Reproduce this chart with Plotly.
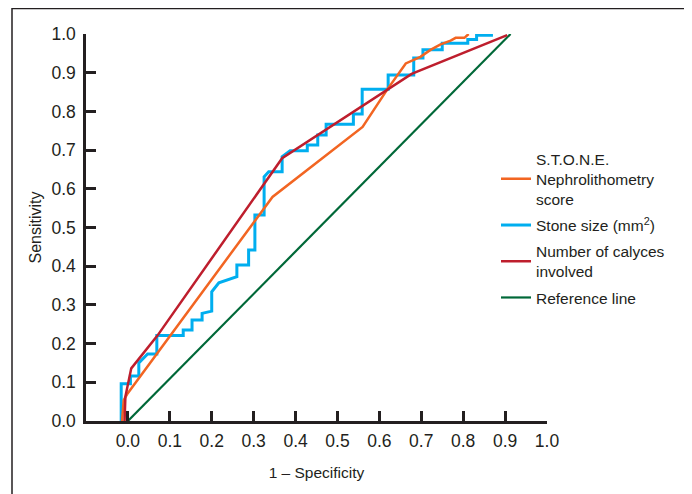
import plotly.graph_objects as go

# ---- data ----
stone_x = [-0.014, -0.010, -0.002, 0.345, 0.560, 0.619, 0.663, 0.698, 0.722, 0.746, 0.770, 0.782, 0.803, 0.813]
stone_y = [0.000, 0.054, 0.069, 0.579, 0.760, 0.857, 0.924, 0.941, 0.959, 0.973, 0.983, 0.990, 0.990, 1.000]

size_x = [-0.016, -0.016, 0.006, 0.006, 0.026, 0.026, 0.047, 0.069, 0.069, 0.132, 0.132, 0.153, 0.153,
          0.177, 0.177, 0.200, 0.200, 0.217, 0.260, 0.260, 0.288, 0.288, 0.303, 0.303, 0.325, 0.325,
          0.336, 0.368, 0.368, 0.387, 0.428, 0.428, 0.453, 0.453, 0.473, 0.473, 0.538, 0.538, 0.559,
          0.559, 0.621, 0.621, 0.682, 0.682, 0.704, 0.704, 0.750, 0.750, 0.811, 0.811, 0.832, 0.832, 0.871]
size_y = [0.000, 0.096, 0.096, 0.116, 0.116, 0.150, 0.173, 0.173, 0.221, 0.221, 0.235, 0.235, 0.261,
          0.261, 0.278, 0.284, 0.334, 0.357, 0.373, 0.403, 0.403, 0.442, 0.442, 0.532, 0.532, 0.631,
          0.644, 0.644, 0.683, 0.698, 0.698, 0.713, 0.713, 0.739, 0.739, 0.767, 0.767, 0.793, 0.793,
          0.857, 0.857, 0.894, 0.894, 0.938, 0.938, 0.959, 0.959, 0.976, 0.976, 0.986, 0.986, 0.997, 0.997]

calyces_x = [-0.008, -0.006, 0.008, 0.070, 0.368, 0.677, 0.905]
calyces_y = [0.000, 0.063, 0.136, 0.220, 0.679, 0.897, 0.997]

ref_x = [0.0, 0.913]
ref_y = [0.0, 1.0]

x_ticks = [0.0, 0.1, 0.2, 0.3, 0.4, 0.5, 0.6, 0.7, 0.8, 0.9, 1.0]
y_ticks = [0.0, 0.1, 0.2, 0.3, 0.4, 0.5, 0.6, 0.7, 0.8, 0.9, 1.0]
tick_text = ["0.0", "0.1", "0.2", "0.3", "0.4", "0.5", "0.6", "0.7", "0.8", "0.9", "1.0"]

names = ["S.T.O.N.E.<br>Nephrolithometry<br>score", "Stone size (mm<sup>2</sup>)",
         "Number of calyces<br>involved", "Reference line"]
colors = ["#F26522", "#00AEEF", "#BE1E2D", "#006838"]

FONT = "Arial, Liberation Sans, Helvetica, sans-serif"

fig = go.Figure()
fig.add_trace(go.Scatter(x=ref_x, y=ref_y, mode="lines", name=names[3], legendrank=4,
                         legendgroup="g4", line=dict(color=colors[3], width=2.2)))
fig.add_trace(go.Scatter(x=size_x, y=size_y, mode="lines", name=names[1], legendrank=2,
                         legendgroup="g2", line=dict(color=colors[1], width=3)))
fig.add_trace(go.Scatter(x=stone_x, y=stone_y, mode="lines", name=names[0], legendrank=1,
                         legendgroup="g1", line=dict(color=colors[0], width=2.5)))
fig.add_trace(go.Scatter(x=calyces_x, y=calyces_y, mode="lines", name=names[2], legendrank=3,
                         legendgroup="g3", line=dict(color=colors[2], width=2.5)))

# the page body has an 8px margin, so figure coords = screen coords - 8
OFF = 8
W, H = 692, 494
L, T = 86 - OFF, 34 - OFF
R = W - (547 - OFF)
B = H - (421 - OFF)
pw, ph = W - L - R, H - T - B

def px_x(p):
    return (p - OFF - L) / pw

def px_y(p):
    return (H - B - (p - OFF)) / ph

fig.add_shape(type="rect", xref="paper", yref="paper",
              x0=px_x(12), x1=px_x(685), y0=px_y(560), y1=px_y(8.5),
              line=dict(color="#231F20", width=1.5), fillcolor="rgba(0,0,0,0)", layer="below")

fig.update_layout(
    width=W, height=H,
    margin=dict(l=L, r=R, t=T, b=B, autoexpand=False),
    paper_bgcolor="white", plot_bgcolor="white",
    font=dict(family=FONT, color="#231F20"),
    showlegend=True,
    legend=dict(x=px_x(496), xanchor="left", y=px_y(142), yanchor="top",
                font=dict(size=15.5, family=FONT, color="#231F20"),
                bgcolor="rgba(0,0,0,0)", traceorder="grouped", tracegroupgap=3,
                valign="middle"),
    xaxis=dict(range=[-0.1, 1.0], tickvals=x_ticks, ticktext=tick_text,
               showgrid=False, zeroline=False, showline=True, linecolor="#231F20", linewidth=2.5,
               ticks="inside", ticklen=10, tickwidth=2.5, tickcolor="#231F20",
               ticklabelstandoff=2,
               tickfont=dict(size=17.5, family=FONT, color="#231F20"),
               title=dict(text="1 – Specificity", font=dict(size=15.5, family=FONT, color="#231F20"),
                          standoff=18),
               automargin=False, fixedrange=True),
    yaxis=dict(range=[0, 1.0], tickvals=y_ticks, ticktext=tick_text,
               showgrid=False, zeroline=False, showline=True, linecolor="#231F20", linewidth=2.5,
               ticks="inside", ticklen=10, tickwidth=2.5, tickcolor="#231F20",
               ticklabelstandoff=4,
               tickfont=dict(size=17.5, family=FONT, color="#231F20"),
               title=dict(text="Sensitivity", font=dict(size=16, family=FONT, color="#231F20"),
                          standoff=6),
               automargin=False, fixedrange=True),
)

fig.write_html("out.html")
